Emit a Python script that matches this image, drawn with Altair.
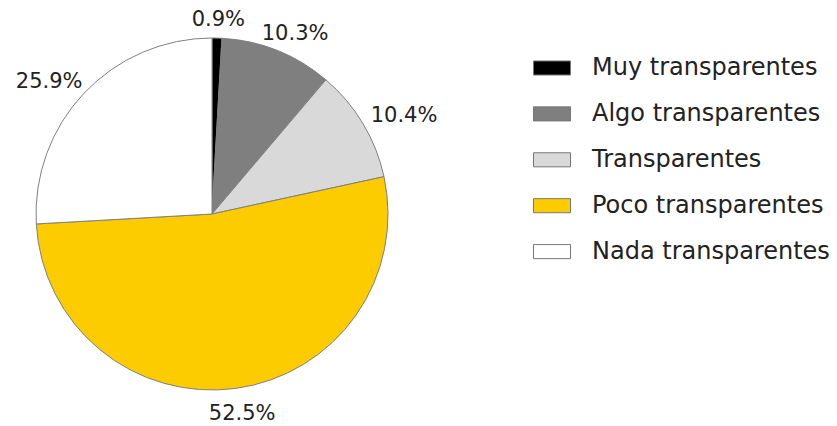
import altair as alt
import pandas as pd
import numpy as np

categories = ["Muy transparentes", "Algo transparentes", "Transparentes", "Poco transparentes", "Nada transparentes"]
values = [0.9, 10.3, 10.4, 52.5, 25.9]
labels = ["0.9%", "10.3%", "10.4%", "52.5%", "25.9%"]
colors = ["#000000", "#7f7f7f", "#d9d9d9", "#fccb00", "#ffffff"]

df = pd.DataFrame({"cat": categories, "val": values, "lab": labels, "ord": list(range(len(categories)))})
# mid angle of each slice (radians, clockwise from 12 o'clock), derived from the values
tot = df["val"].sum()
mid = (df["val"].cumsum() - df["val"] / 2) / tot * 2 * np.pi
# labels sit on an ellipse around the pie (wider horizontally, as the texts are wide)
ex, ey = 224 * np.sin(mid), 198 * np.cos(mid)
df["lt"] = np.arctan2(ex, ey)
df["lr"] = np.hypot(ex, ey)

CX, CY = 204, 206

color = alt.Color(
    "cat:N",
    scale=alt.Scale(domain=categories, range=colors),
    sort=categories,
    legend=alt.Legend(
        title=None,
        orient="none",
        legendX=525,
        legendY=41,
        padding=0,
        symbolType="M-1,-0.38L1,-0.38L1,0.38L-1,0.38Z",
        symbolSize=1369,
        symbolStrokeColor="#777777",
        symbolStrokeWidth=1,
        labelFont="DejaVu Sans",
        labelFontSize=24,
        labelColor="#222222",
        labelOffset=21,
        rowPadding=14.9,
        labelLimit=400,
    ),
)

pie = alt.Chart(df).mark_arc(radius=176, stroke="#808080", strokeWidth=1).encode(
    theta=alt.Theta("val:Q", stack=True),
    order=alt.Order("ord:Q"),
    color=color,
    x=alt.value(CX),
    y=alt.value(CY),
)

text = alt.Chart(df).mark_text(font="DejaVu Sans", fontSize=21, color="#222222", dy=4).encode(
    text="lab:N",
    theta=alt.Theta("lt:Q", scale=None),
    radius=alt.Radius("lr:Q", scale=None),
    x=alt.value(CX),
    y=alt.value(CY),
)

chart = alt.layer(pie, text).properties(
    width=821, height=418, autosize=alt.AutoSizeParams(type="none"), padding=0
).configure_view(stroke=None)

chart.save("out.html", embed_options={"renderer": "svg", "actions": False})
